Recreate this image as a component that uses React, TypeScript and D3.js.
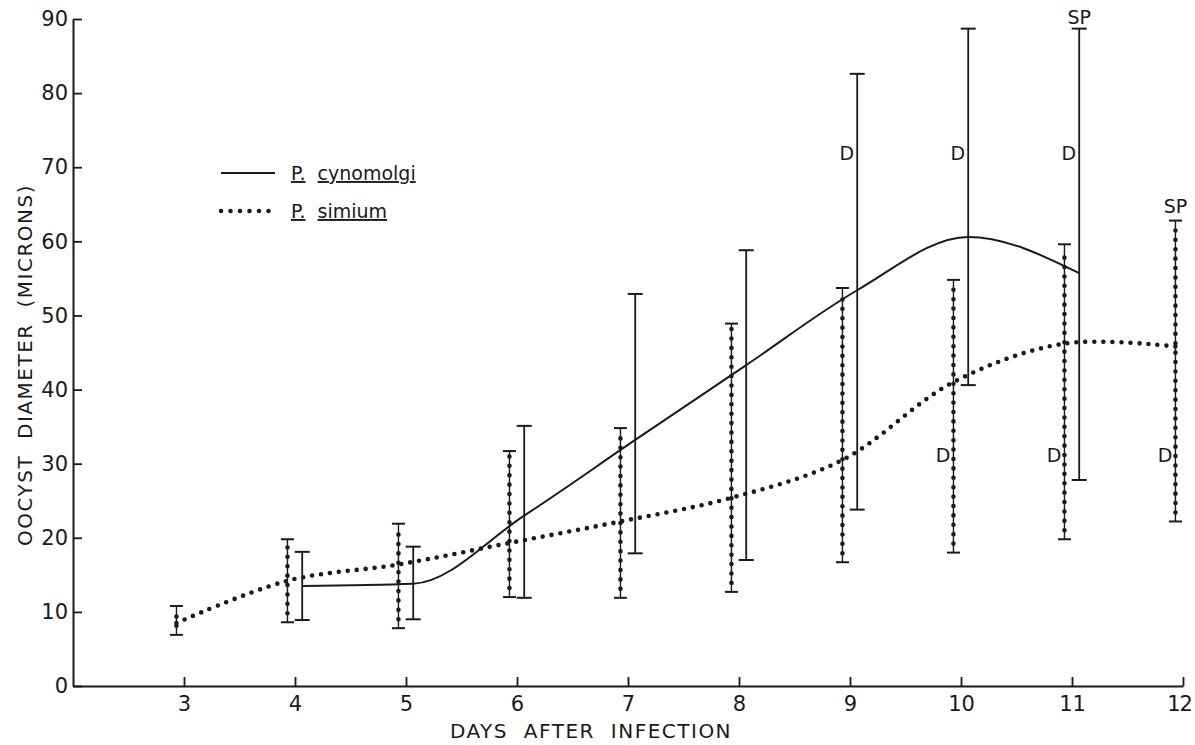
import React from "react";
import * as d3 from "d3";

// P. simium (dotted) — mean and range per day
const simiumDays = [3, 4, 5, 6, 7, 8, 9, 10, 11, 12];
const simiumMean = [8.5, 14.2, 16.4, 19.3, 22.2, 25.4, 30.5, 41.0, 46.2, 45.8];
const simiumLow = [6.9, 8.6, 7.8, 12.0, 11.9, 12.7, 16.7, 18.0, 19.8, 22.2];
const simiumHigh = [10.8, 19.8, 21.9, 31.7, 34.8, 48.9, 53.7, 54.8, 59.6, 62.8];

// P. cynomolgi (solid)
const cynoDays = [4, 5, 6, 7, 8, 9, 10, 11];
const cynoMean = [13.5, 13.8, 23.0, 33.2, 43.3, 53.4, 60.6, 55.7];
const cynoLow = [8.9, 9.0, 11.9, 17.9, 17.0, 23.8, 40.6, 27.8];
const cynoHigh = [18.1, 18.8, 35.1, 52.9, 58.8, 82.6, 88.7, 88.7];

// annotations
const cynoDDays = [9, 10, 11];
const simiumDDays = [10, 11, 12];
const cynoSPDays = [11];
const simiumSPDays = [12];

const xTicks = [3, 4, 5, 6, 7, 8, 9, 10, 11, 12];
const yTicks = [0, 10, 20, 30, 40, 50, 60, 70, 80, 90];

const FONT = "'DejaVu Sans', sans-serif";

export default function App() {
  const xAxisRef = React.useRef<SVGGElement>(null);
  const yAxisRef = React.useRef<SVGGElement>(null);

  const x = d3.scaleLinear().domain([2, 12]).range([73, 1183]);
  const y = d3.scaleLinear().domain([0, 90]).range([686, 19]);

  const simOff = -0.068;
  const cynOff = 0.065;

  React.useEffect(() => {
    const xAxis = d3
      .axisBottom(x)
      .tickValues(xTicks)
      .tickSizeInner(-9)
      .tickSizeOuter(0)
      .tickPadding(10)
      .tickFormat(d3.format("d"));
    const yAxis = d3
      .axisLeft(y)
      .tickValues(yTicks)
      .tickSizeInner(-9)
      .tickSizeOuter(0)
      .tickPadding(5)
      .tickFormat(d3.format("d"));

    [
      [xAxisRef.current, xAxis],
      [yAxisRef.current, yAxis],
    ].forEach(([el, ax]: any) => {
      const g = d3.select(el);
      g.call(ax);
      g.select(".domain").attr("stroke", "#1a1a1a").attr("stroke-width", 2);
      g.selectAll(".tick line").attr("stroke", "#1a1a1a").attr("stroke-width", 1.8);
      g.selectAll(".tick text")
        .attr("fill", "#1a1a1a")
        .style("font-family", FONT)
        .style("font-size", "21px");
    });
    // last x label sits against the page edge
    d3.select(xAxisRef.current)
      .selectAll<SVGTextElement, number>(".tick text")
      .filter((d) => d === 12)
      .attr("dx", -4)
      .attr("letter-spacing", -1);
    // eslint-disable-next-line
  }, []);

  const simCurve = d3
    .line<[number, number]>()
    .x((d) => x(d[0]))
    .y((d) => y(d[1]))
    .curve(d3.curveCatmullRom.alpha(0.5));

  const cynCurve = d3
    .line<[number, number]>()
    .x((d) => x(d[0]))
    .y((d) => y(d[1]))
    .curve(d3.curveMonotoneX);

  const simPts = simiumDays.map((d, i) => [d + simOff, simiumMean[i]] as [number, number]);
  const cynPts = cynoDays.map((d, i) => [d + cynOff, cynoMean[i]] as [number, number]);

  const ink = "#1a1a1a";
  const title = { fontFamily: FONT, fontSize: 20, letterSpacing: 1.5, wordSpacing: 8 };

  return (
    <svg
      width={1195}
      height={745}
      style={{ position: "absolute", left: 0, top: 0, background: "#fff" }}
    >
      <g ref={xAxisRef} transform={`translate(0,${y(0)})`} />
      <g ref={yAxisRef} transform={`translate(${x(2)},0)`} />

      {/* axis titles */}
      <text x={591} y={738} textAnchor="middle" fill={ink} style={title}>
        DAYS AFTER INFECTION
      </text>
      <text transform={`translate(32,365) rotate(-90)`} textAnchor="middle" fill={ink} style={title}>
        OOCYST DIAMETER (MICRONS)
      </text>

      {/* mean curves */}
      <path d={cynCurve(cynPts) || ""} fill="none" stroke={ink} strokeWidth={2} />
      <path
        d={simCurve(simPts) || ""}
        fill="none"
        stroke={ink}
        strokeWidth={4.6}
        strokeLinecap="round"
        strokeDasharray="0 9"
      />

      {/* cynomolgi range bars */}
      {cynoDays.map((d, i) => {
        const cx = x(d + cynOff);
        return (
          <g key={"c" + d}>
            <line x1={cx} x2={cx} y1={y(cynoLow[i])} y2={y(cynoHigh[i])} stroke={ink} strokeWidth={1.8} />
            <line x1={cx - 7.5} x2={cx + 7.5} y1={y(cynoLow[i])} y2={y(cynoLow[i])} stroke={ink} strokeWidth={2} />
            <line x1={cx - 7.5} x2={cx + 7.5} y1={y(cynoHigh[i])} y2={y(cynoHigh[i])} stroke={ink} strokeWidth={2} />
          </g>
        );
      })}

      {/* simium range bars */}
      {simiumDays.map((d, i) => {
        const cx = x(d + simOff);
        const y0 = y(simiumLow[i]);
        const y1 = y(simiumHigh[i]);
        return (
          <g key={"s" + d}>
            <line x1={cx} x2={cx} y1={y0} y2={y1} stroke={ink} strokeWidth={1.4} />
            <line
              x1={cx}
              x2={cx}
              y1={y0 - 9}
              y2={y1 + 5}
              stroke={ink}
              strokeWidth={4.6}
              strokeLinecap="round"
              strokeDasharray="0 9.4"
            />
            <line x1={cx - 6.5} x2={cx + 6.5} y1={y0} y2={y0} stroke={ink} strokeWidth={2} />
            <line x1={cx - 6.5} x2={cx + 6.5} y1={y1} y2={y1} stroke={ink} strokeWidth={2} />
          </g>
        );
      })}

      {/* D and SP annotations */}
      {cynoDDays.map((d) => (
        <text key={"cd" + d} x={x(d + cynOff) - 3} y={y(71)} textAnchor="end" fill={ink}
          style={{ fontFamily: FONT, fontSize: 19 }}>D</text>
      ))}
      {simiumDDays.map((d) => (
        <text key={"sd" + d} x={x(d + simOff) - 3} y={y(30.2)} textAnchor="end" fill={ink}
          style={{ fontFamily: FONT, fontSize: 19 }}>D</text>
      ))}
      {cynoSPDays.map((d) => {
        const i = cynoDays.indexOf(d);
        return (
          <text key={"csp" + d} x={x(d + cynOff)} y={y(cynoHigh[i]) - 5} textAnchor="middle" fill={ink}
            style={{ fontFamily: FONT, fontSize: 19 }}>SP</text>
        );
      })}
      {simiumSPDays.map((d) => {
        const i = simiumDays.indexOf(d);
        return (
          <text key={"ssp" + d} x={x(d + simOff)} y={y(simiumHigh[i]) - 8} textAnchor="middle" fill={ink}
            style={{ fontFamily: FONT, fontSize: 19 }}>SP</text>
        );
      })}

      {/* legend */}
      <line x1={221} x2={275} y1={173} y2={173} stroke={ink} strokeWidth={2} />
      <line x1={221} x2={278} y1={211} y2={211} stroke={ink} strokeWidth={4.6}
        strokeLinecap="round" strokeDasharray="0 9.5" />
      <text x={291} y={180} fill={ink} style={{ fontFamily: FONT, fontSize: 19 }}>
        <tspan style={{ textDecoration: "underline" }}>P.</tspan>
        <tspan dx={12} style={{ textDecoration: "underline" }}>cynomolgi</tspan>
      </text>
      <text x={291} y={218} fill={ink} style={{ fontFamily: FONT, fontSize: 19 }}>
        <tspan style={{ textDecoration: "underline" }}>P.</tspan>
        <tspan dx={12} style={{ textDecoration: "underline" }}>simium</tspan>
      </text>
    </svg>
  );
}
